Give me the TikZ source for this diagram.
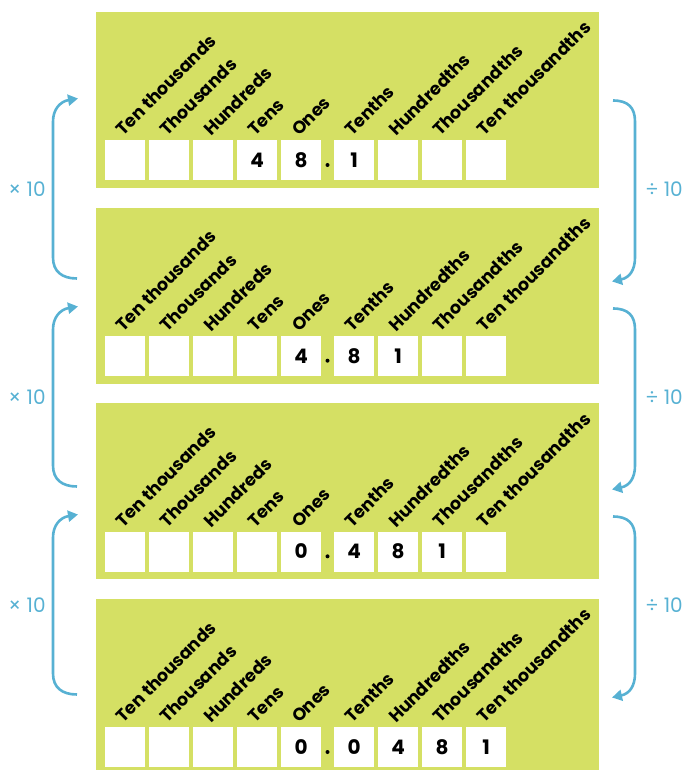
\documentclass[tikz,border=0pt]{standalone}
\usepackage{fontspec}
\setmainfont{Poppins}
\usetikzlibrary{arrows.meta}
\definecolor{panelgreen}{HTML}{D5E064}
\definecolor{arrowblue}{HTML}{57B1D3}
\begin{document}
\begin{tikzpicture}[x=1pt,y=-1pt,
  cell/.style={fill=white, draw=none, minimum width=40pt, minimum height=40pt,
    inner sep=0pt, anchor=north west},
  digit/.style={inner sep=0pt, font=\bfseries\fontsize{20}{20}\selectfont},
  place/.style={rotate=45, anchor=base west, inner sep=0pt,
    font=\bfseries\fontsize{17.5}{18}\selectfont},
  arr/.style={draw=arrowblue, line width=2.6pt,
    -{Triangle[length=10pt,width=11pt]}},
  oplabel/.style={text=arrowblue, font=\fontsize{20}{20}\selectfont, inner sep=0pt}]
\useasboundingbox (0,0) rectangle (683,770);

% four place-value panels
\foreach \t [count=\p] in {12,207.67,403.33,599} {
  \fill[panelgreen] (96,\t) rectangle (599,{min(\t+176,770)});
  \foreach \lab [count=\i] in {Ten thousands,Thousands,Hundreds,Tens,Ones,Tenths,Hundredths,Thousandths,Ten thousandths} {
    \pgfmathsetmacro\bx{105+44*(\i-1)+9*(\i>5)}
    \node[cell] (p\p c\i) at (\bx,\t+128) {};
    \node[place] (p\p l\i) at (\bx+18,\t+125) {\lab};
  }
  \fill (327.5,\t+153) circle (2);
}

% digits in the cells
\foreach \p/\i/\d in {1/4/4,1/5/8,1/6/1,
                      2/5/4,2/6/8,2/7/1,
                      3/5/0,3/6/4,3/7/8,3/8/1,
                      4/5/0,4/6/0,4/7/4,4/8/8,4/9/1} {
  \node[digit] at (p\p c\i.center) {\d};
}

% multiply / divide arrows between panels
\foreach \c in {189.5,397.5,605.5} {
  \coordinate (lb) at (77,\c+89);
  \coordinate (lt) at (78,\c-91);
  \draw[arr] (lb) .. controls (62,\c+89) and (53,\c+82) .. (53,\c+68)
    -- (53,\c-68) .. controls (53,\c-80) and (60,\c-88) .. (lt);
  \node[oplabel] at (27,\c) {× 10};
  \coordinate (rt) at (613,\c-89);
  \coordinate (rb) at (612,\c+92);
  \draw[arr] (rt) .. controls (628,\c-89) and (635,\c-82) .. (635,\c-68)
    -- (635,\c+68) .. controls (635,\c+80) and (630,\c+88) .. (rb);
  \node[oplabel] at (664,\c) {÷ 10};
}
\end{tikzpicture}
\end{document}
